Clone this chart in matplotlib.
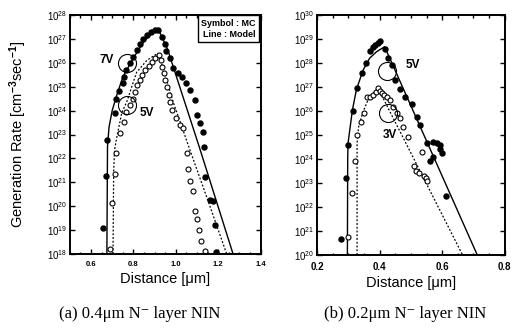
import numpy as np
import matplotlib.pyplot as plt
from matplotlib.ticker import LogLocator, LogFormatterSciNotation, MultipleLocator

plt.rcParams['font.family'] = ['Liberation Sans', 'DejaVu Sans']
plt.rcParams['mathtext.fontset'] = 'custom'
plt.rcParams['mathtext.rm'] = 'Liberation Sans:bold'
plt.rcParams['mathtext.it'] = 'Liberation Sans:bold'
plt.rcParams['mathtext.bf'] = 'Liberation Sans:bold'

# (a) 0.4um N- layer, log10 of generation rate
a_mc7_x = [0.656, 0.67, 0.676, 0.711, 0.72, 0.731, 0.749, 0.755, 0.767, 0.783, 0.799, 0.815,
           0.83, 0.846, 0.862, 0.885, 0.901, 0.917, 0.937, 0.948, 0.956, 0.972, 0.987, 1.011,
           1.027, 1.05, 1.066, 1.09, 1.098, 1.113, 1.129, 1.132, 1.14, 1.16, 1.175, 1.184, 1.189]
a_mc7_y = [19.09, 21.28, 22.77, 23.89, 24.47, 24.83, 25.17, 25.42, 25.7, 25.98, 26.26, 26.54,
           26.8, 27.0, 27.16, 27.3, 27.37, 27.37, 27.1, 26.8, 26.5, 26.2, 25.8, 25.56,
           25.42, 25.14, 24.86, 24.44, 23.82, 23.47, 23.12, 22.49, 21.2, 20.26, 20.22, 19.2, 18.1]
a_mc5_x = [0.689, 0.701, 0.712, 0.72, 0.736, 0.755, 0.767, 0.783, 0.796, 0.807, 0.817, 0.83,
           0.843, 0.857, 0.873, 0.888, 0.904, 0.92, 0.928, 0.935, 0.943, 0.951, 0.959, 0.968,
           0.975, 0.984, 1.003, 1.019, 1.034, 1.052, 1.058, 1.069, 1.079, 1.09, 1.098, 1.108,
           1.121, 1.14]
a_mc5_y = [18.2, 20.15, 21.33, 22.21, 23.05, 23.54, 23.95, 24.23, 24.5, 24.79, 25.07, 25.28,
           25.49, 25.7, 25.87, 26.05, 26.19, 26.33, 26.12, 25.84, 25.56, 25.28, 24.97, 24.65,
           24.37, 24.03, 23.68, 23.4, 23.26, 22.23, 21.54, 21.07, 20.65, 19.8, 19.45, 19.0,
           18.56, 18.13]
a_mod7_x = [0.675, 0.678, 0.685, 0.70, 0.72, 0.75, 0.80, 0.85, 0.90, 0.915, 0.96, 1.11, 1.27]
a_mod7_y = [18.0, 22.5, 23.3, 24.0, 24.6, 25.4, 26.2, 26.9, 27.35, 27.45, 26.6, 22.5, 18.0]
a_mod5_x = [0.704, 0.707, 0.712, 0.72, 0.745, 0.77, 0.815, 0.863, 0.915, 0.94, 0.986, 1.03,
            1.05, 1.145, 1.24]
a_mod5_y = [18.0, 21.5, 22.4, 22.8, 23.9, 24.4, 25.6, 26.1, 26.4, 25.8, 24.4, 23.3, 22.77,
            20.4, 18.0]

# (b) 0.2um N- layer
b_mc5_x = [0.277, 0.293, 0.299, 0.315, 0.328, 0.344, 0.357, 0.369, 0.38, 0.385, 0.396, 0.401,
           0.417, 0.427, 0.44, 0.45, 0.465, 0.48, 0.503, 0.52, 0.53, 0.55, 0.56, 0.571, 0.571,
           0.583, 0.593, 0.593, 0.6, 0.612]
b_mc5_y = [20.67, 23.2, 24.6, 26.0, 26.95, 27.6, 28.0, 28.5, 28.68, 28.75, 28.85, 28.9,
           28.6, 28.2, 27.9, 27.3, 26.9, 26.6, 26.3, 25.75, 25.4, 24.67, 23.9, 24.1, 24.7,
           24.67, 24.6, 24.4, 24.25, 22.45]
b_mc3_x = [0.3, 0.311, 0.32, 0.328, 0.34, 0.35, 0.361, 0.37, 0.38, 0.388, 0.394, 0.4, 0.407,
           0.415, 0.423, 0.433, 0.442, 0.455, 0.465, 0.476, 0.492, 0.51, 0.517, 0.527, 0.534,
           0.541, 0.547, 0.553]
b_mc3_y = [20.75, 22.6, 23.9, 25.0, 25.55, 25.9, 26.6, 26.6, 26.67, 26.8, 26.95, 26.85, 26.74,
           26.65, 26.6, 26.46, 26.18, 25.9, 25.7, 25.35, 24.93, 23.7, 23.5, 23.4, 24.3,
           23.3, 23.2, 23.1]
b_mod5_x = [0.297, 0.298, 0.299, 0.313, 0.326, 0.347, 0.368, 0.39, 0.416, 0.712]
b_mod5_y = [20.0, 24.0, 24.65, 26.04, 26.9, 27.7, 28.2, 28.47, 28.68, 20.0]
b_mod3_x = [0.328, 0.328, 0.333, 0.347, 0.363, 0.384, 0.395, 0.665]
b_mod3_y = [20.0, 24.65, 25.35, 25.97, 26.46, 26.8, 26.95, 20.0]

# voltage labels and circled regions
a_labels = ['7V', '5V']
a_label_x = [0.675, 0.862]
a_label_y = [26.1, 23.9]
a_circ_x = [0.772, 0.77]
a_circ_y = [25.98, 24.23]
b_labels = ['5V', '3V']
b_label_x = [0.506, 0.434]
b_label_y = [27.9, 25.0]
b_circ_x = [0.424, 0.426]
b_circ_y = [27.67, 25.9]

captions = ['(a) 0.4\u03bcm N\u207b layer NIN', '(b) 0.2\u03bcm N\u207b layer NIN']


def pw(v):
    return 10.0 ** np.array(v)


fig = plt.figure(figsize=(5.13, 3.35), dpi=100)
ax1 = fig.add_axes([0.136, 0.242, 0.372, 0.713])
ax2 = fig.add_axes([0.618, 0.239, 0.366, 0.716])

ms = 3.6
ax1.plot(a_mod7_x, pw(a_mod7_y), color='black', lw=1.0)
ax1.plot(a_mod5_x, pw(a_mod5_y), color='black', lw=0.9, ls=(0, (1.5, 1.5)))
ax1.plot(a_mc7_x, pw(a_mc7_y), 'o', color='black', ms=ms, ls='none')
ax1.plot(a_mc5_x, pw(a_mc5_y), 'o', mfc='white', mec='black', mew=0.8, ms=ms, ls='none')

ax2.plot(b_mod5_x, pw(b_mod5_y), color='black', lw=1.0)
ax2.plot(b_mod3_x, pw(b_mod3_y), color='black', lw=0.9, ls=(0, (1.5, 1.5)))
ax2.plot(b_mc5_x, pw(b_mc5_y), 'o', color='black', ms=ms, ls='none')
ax2.plot(b_mc3_x, pw(b_mc3_y), 'o', mfc='white', mec='black', mew=0.8, ms=ms, ls='none')

for ax, lx, ly, lt, cx, cy in [(ax1, a_label_x, a_label_y, a_labels, a_circ_x, a_circ_y),
                                (ax2, b_label_x, b_label_y, b_labels, b_circ_x, b_circ_y)]:
    ax.plot(cx, pw(cy), 'o', mfc='none', mec='black', mew=0.8, ms=13, ls='none')
    for x, y, t in zip(lx, ly, lt):
        ax.text(x, 10 ** y, t, fontsize=8.5, fontweight='bold', ha='center', va='center')

ax1.text(0.975, 0.985, 'Symbol : MC\nLine : Model', transform=ax1.transAxes, ha='right',
         va='top', fontsize=6.5, fontweight='bold', linespacing=1.3,
         bbox=dict(boxstyle='square,pad=0.4', fc='white', ec='black', lw=1.0))

for ax, xlim, ylim, xmaj in [(ax1, (0.5, 1.4), (18, 28), [0.6, 0.8, 1.0, 1.2, 1.4]),
                             (ax2, (0.2, 0.8), (20, 30), [0.2, 0.4, 0.6, 0.8])]:
    ax.set_yscale('log')
    ax.set_xlim(*xlim)
    ax.set_ylim(10.0 ** ylim[0], 10.0 ** ylim[1])
    ax.set_xticks(xmaj)
    ax.xaxis.set_minor_locator(MultipleLocator(0.05))
    ax.yaxis.set_major_locator(LogLocator(base=10, numticks=15))
    ax.yaxis.set_major_formatter(LogFormatterSciNotation())
    ax.yaxis.set_minor_locator(LogLocator(base=10, subs=[], numticks=15))
    ax.tick_params(which='both', direction='in', top=True, right=True, width=1.0)
    ax.tick_params(which='major', length=3.5, labelsize=7)
    ax.tick_params(axis='y', pad=2)
    ax.tick_params(axis='x', pad=5)
    ax.tick_params(which='minor', length=1.8)
    for lab in ax.get_xticklabels():
        lab.set_fontweight('bold')
    for s in ax.spines.values():
        s.set_linewidth(1.4)
    ax.set_xlabel('Distance [\u03bcm]', fontsize=10.5, labelpad=3)

ax1.set_xticklabels(['0.6', '0.8', '1.0', '1.2', '1.4'], fontsize=5.5, fontweight='bold')
fig.text(0.035, 0.6, 'Generation Rate [cm$^{-3}$sec$^{-1}$]', rotation=90, fontsize=10.5,
         ha='center', va='center')

serif = ['Liberation Serif', 'DejaVu Serif']
fig.text(0.272, 0.05, captions[0], fontsize=12, family=serif, ha='center')
fig.text(0.79, 0.05, captions[1], fontsize=12, family=serif, ha='center')

fig.savefig('out.png', dpi=100)
